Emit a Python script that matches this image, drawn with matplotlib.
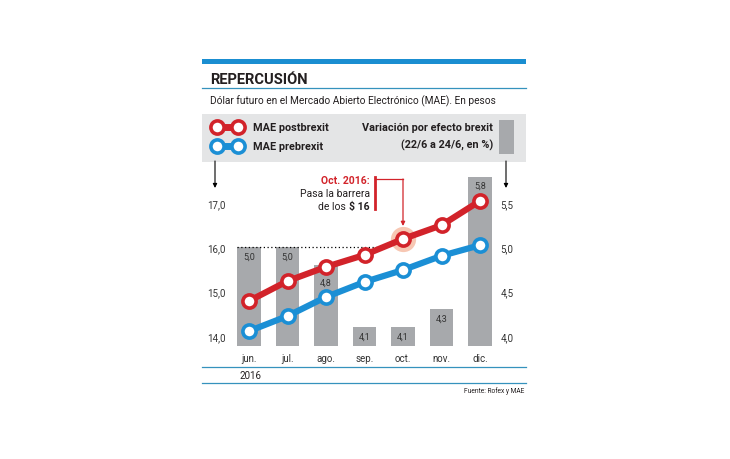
import matplotlib
matplotlib.use("Agg")
import matplotlib.pyplot as plt
from matplotlib.patches import Rectangle

plt.rcParams['font.family'] = ['Roboto', 'DejaVu Sans']

# Data
months = ["jun.", "jul.", "ago.", "sep.", "oct.", "nov.", "dic."]
post_brexit = [14.79, 15.24, 15.56, 15.83, 16.19, 16.50, 17.05]
pre_brexit = [14.11, 14.45, 14.88, 15.22, 15.49, 15.81, 16.05]
variation = [5.0, 5.0, 4.8, 4.1, 4.1, 4.3, 5.8]
left_ticks = [14.0, 15.0, 16.0, 17.0]
right_ticks = [4.0, 4.5, 5.0, 5.5]

RED = "#d2232a"
BLUE = "#1b8fd5"
GRAY = "#a7a9ac"
BOX = "#e4e5e6"
TEAL = "#3592bd"
DARK = "#231f20"

W, H = 730, 460
fig = plt.figure(figsize=(W / 100, H / 100), dpi=100)


def px_axes(x0, y0, x1, y1):
    # pixel box (top-left origin) -> figure fraction
    return [x0 / W, 1 - y1 / H, (x1 - x0) / W, (y1 - y0) / H]


# decorations in pixel coordinates (behind the chart)
deco = fig.add_axes([0, 0, 1, 1])
deco.set_xlim(0, W)
deco.set_ylim(H, 0)
deco.axis("off")

# main chart
ax2 = fig.add_axes(px_axes(229.75, 170, 499.25, 347))
ax = ax2.twinx()
ax.yaxis.tick_left()
ax2.yaxis.tick_right()
ax2.patch.set_visible(False)

x = list(range(len(months)))
ax2.bar(x, variation, width=0.6, color=GRAY, zorder=1)
for i, v in enumerate(variation):
    off = -17 if i == 2 else -9
    ax2.annotate(f"{v:.1f}".replace(".", ","), (i, v), xytext=(0, off),
                 textcoords="offset pixels", ha="center", va="center",
                 fontsize=6.5, color="#333333")

ax.hlines(16.0, -0.3, 3.33, colors="black", linestyles=(0, (1, 2)), lw=0.9, zorder=2)
ax.scatter([4], [post_brexit[4]], s=330, color="#f5b9a0", alpha=0.8, zorder=2, lw=0)
ax.plot(x, post_brexit, color=RED, lw=4.5, marker="o", ms=9.5, mfc="white",
        mec=RED, mew=2.6, zorder=3, solid_capstyle="round")
ax.plot(x, pre_brexit, color=BLUE, lw=4.5, marker="o", ms=9.5, mfc="white",
        mec=BLUE, mew=2.6, zorder=3, solid_capstyle="round")

ax.set_xlim(-0.5, 6.5)
ax2.set_xlim(-0.5, 6.5)
ax.set_ylim(13.774, 17.77)
ax2.set_ylim(3.887, 5.885)
ax.set_yticks(left_ticks)
ax.set_yticklabels([f"{t:.1f}".replace(".", ",") for t in left_ticks])
ax2.set_yticks(right_ticks)
ax2.set_yticklabels([f"{t:.1f}".replace(".", ",") for t in right_ticks])
ax2.set_xticks(x)
ax2.set_xticklabels(months)
for a in (ax, ax2):
    for s in a.spines.values():
        s.set_visible(False)
    a.tick_params(length=0, labelsize=7, colors="#333333")
ax.tick_params(axis="y", pad=3)
ax2.tick_params(axis="y", pad=1)
ax2.tick_params(axis="x", pad=5)
ax.set_zorder(ax2.get_zorder() + 1)
ax.patch.set_visible(False)

# overlay for annotation
top = fig.add_axes([0, 0, 1, 1], zorder=10)
top.set_xlim(0, W)
top.set_ylim(H, 0)
top.axis("off")
top.patch.set_visible(False)

deco.add_patch(Rectangle((202, 60), 324, 4.5, color="#1a8ed1", lw=0))
deco.text(210, 80, "REPERCUSIÓN", fontsize=10.5, fontweight="bold", color=DARK, va="center")
deco.plot([202, 526], [88.5, 88.5], color=TEAL, lw=0.9)
deco.text(210, 101, "Dólar futuro en el Mercado Abierto Electrónico (MAE). En pesos",
          fontsize=7.3, color=DARK, va="center")

deco.add_patch(Rectangle((202, 115), 324, 48, color=BOX, lw=0))
for yy, col, lab in [(128, RED, "MAE postbrexit"), (147, BLUE, "MAE prebrexit")]:
    deco.plot([217, 238], [yy, yy], color=col, lw=5, marker="o", ms=9.5,
              mfc="white", mec=col, mew=2.6)
    deco.text(253, yy, lab, fontsize=7.8, fontweight="bold", color=DARK, va="center")
deco.text(493, 128, "Variación por efecto brexit", fontsize=7.8, fontweight="bold",
          color=DARK, va="center", ha="right")
deco.text(493, 145, "(22/6 a 24/6, en %)", fontsize=7.8, fontweight="bold",
          color=DARK, va="center", ha="right")
deco.add_patch(Rectangle((499, 121), 15, 34, color=GRAY, lw=0))

for xa in (215, 506):
    deco.annotate("", xy=(xa, 189), xytext=(xa, 162),
                  arrowprops=dict(arrowstyle="-|>", color="black", lw=0.8,
                                  mutation_scale=6, shrinkA=0, shrinkB=0))

# annotation
top.text(370, 181, "Oct. 2016:", fontsize=7.5, fontweight="bold", color=RED,
         ha="right", va="center")
top.text(370, 194, "Pasa la barrera", fontsize=7.5, color=DARK, ha="right", va="center")
usd = top.text(370, 207, r"\$ 16", fontsize=7.5, fontweight="bold", color=DARK,
               ha="right", va="center")
top.annotate("de los", xy=(0, 0.5), xycoords=usd, xytext=(-2.5, 0),
             textcoords="offset points", fontsize=7.5, color=DARK,
             ha="right", va="center")
top.plot([375, 375], [178, 210], color=RED, lw=2)
top.plot([376, 403], [180, 180], color=RED, lw=0.9)
top.annotate("", xy=(403, 227), xytext=(403, 180),
             arrowprops=dict(arrowstyle="-|>", color=RED, lw=0.9,
                             mutation_scale=6, shrinkA=0, shrinkB=0))

# bottom
deco.plot([202, 526], [368, 368], color=TEAL, lw=0.9)
deco.text(240, 376.5, "2016", fontsize=7, color=DARK, va="center")
deco.plot([202, 526], [384, 384], color=TEAL, lw=0.9)
deco.text(524, 391, "Fuente: Rofex y MAE", fontsize=4.8, color=DARK, ha="right", va="center")

fig.savefig("out.png", dpi=100, facecolor="white")
